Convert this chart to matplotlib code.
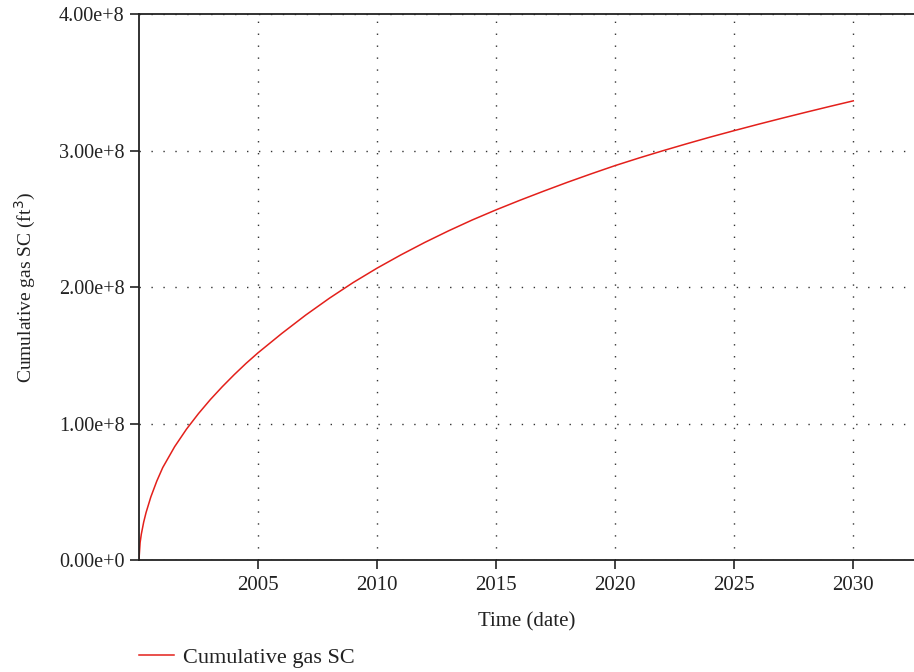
#!/usr/bin/env python3
# coding: utf-8

import matplotlib
matplotlib.use('Agg')
import matplotlib.pyplot as plt
from matplotlib.ticker import FuncFormatter

plt.rcParams['font.family'] = ['Liberation Serif', 'DejaVu Serif']

## Cumulative gas production at surface conditions (ft3)
years = [2000.0, 2000.05, 2000.1, 2000.2, 2000.3, 2000.5, 2000.75, 2001.0,
         2001.5, 2002, 2002.5, 2003, 2003.5, 2004, 2004.5, 2005, 2006, 2007,
         2008, 2009, 2010, 2011, 2012, 2013, 2014, 2015, 2016, 2017, 2018,
         2019, 2020, 2021, 2022, 2023, 2024, 2025, 2026, 2027, 2028, 2029, 2030]
cum_gas = [0.0, 0.131, 0.192, 0.281, 0.351, 0.465, 0.581, 0.68,
           0.833, 0.962, 1.075, 1.178, 1.272, 1.36, 1.443, 1.52, 1.662, 1.796,
           1.920, 2.035, 2.140, 2.237, 2.328, 2.413, 2.493, 2.567, 2.637, 2.704, 2.769,
           2.831, 2.891, 2.9465, 2.9995, 3.0505, 3.100, 3.147, 3.193, 3.2375, 3.281, 3.3235, 3.365]
cum_gas = [v * 1e8 for v in cum_gas]

x_ticks = [2005, 2010, 2015, 2020, 2025, 2030]
y_ticks = [0, 1e8, 2e8, 3e8, 4e8]


def sci_fmt(v, pos):
    if v == 0:
        return '0.00e+0'
    return '%.2fe+8' % (v / 1e8)


fig = plt.figure(figsize=(9.14, 6.72), dpi=100)
ax = fig.add_axes([0.152, 0.166, 0.848, 0.813])

line, = ax.plot(years, cum_gas, color='#e3201b', linewidth=1.1, label='Cumulative gas SC')

ax.set_xlim(2000, 2032.55)
ax.set_ylim(0, 4e8)
ax.set_xticks(x_ticks)
ax.set_yticks(y_ticks)
ax.yaxis.set_major_formatter(FuncFormatter(sci_fmt))

ax.spines['right'].set_visible(False)
for s in ('left', 'bottom', 'top'):
    ax.spines[s].set_linewidth(1.3)
    ax.spines[s].set_color('#222222')

ax.tick_params(axis='both', direction='out', length=6.5, width=1.2,
               color='#222222', labelcolor='#222222')
ax.tick_params(axis='y', labelsize=14.5, pad=4)
ax.tick_params(axis='x', labelsize=15, pad=5)

ax.grid(True, linestyle=(0, (1, 7.6)), color='#333333', linewidth=1.0)

ax.set_xlabel('Time (date)', fontsize=15, color='#222222', labelpad=12)
ax.set_ylabel('Cumulative gas SC (ft$^3$)', fontsize=14, color='#222222', labelpad=15)

fig.legend(handles=[line], loc='center left', bbox_to_anchor=(0.152, 0.021),
           frameon=False, fontsize=16, handlelength=1.6, handletextpad=0.4,
           borderpad=0, borderaxespad=0, labelcolor='#222222')

fig.savefig('out.png', dpi=100)
